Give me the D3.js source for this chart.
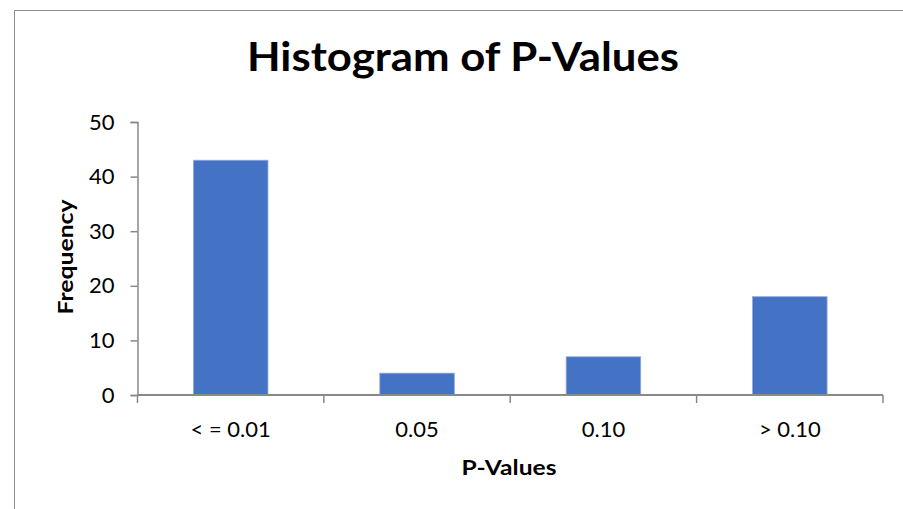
<!DOCTYPE html>
<html>
<head>
<meta charset="utf-8">
<script src="https://cdn.jsdelivr.net/npm/d3@7"></script>
<style>
  body { margin: 0; background: #fff; }
  text { font-family: Lato, "Open Sans", sans-serif; }
</style>
</head>
<body>
<div id="chart"></div>
<script>
const chartWidth = 903;
const chartHeight = 509;

const margin = { top: 122, bottom: 114, left: 137.5, right: 20 };

// chart data
const categories = ["< = 0.01", "0.05", "0.10", "> 0.10"];
const frequencies = [43, 4, 7, 18];
const yTicks = [0, 10, 20, 30, 40, 50];

const barColor = "#4472C4";
const axisColor = "#898989";

const svg = d3.select("#chart")
  .append("svg")
  .attr("width", chartWidth)
  .attr("height", chartHeight);

// outer frame (only left and top edges are visible in the picture)
svg.append("path")
  .attr("d", "M14.5," + chartHeight + "V10.5H" + chartWidth)
  .attr("fill", "none")
  .attr("stroke", "#8c8c8c")
  .attr("stroke-width", 1);

const xScale = d3.scaleBand()
  .domain(categories)
  .range([margin.left, 883])
  .paddingInner(0.6)
  .paddingOuter(0.3);

const yScale = d3.scaleLinear()
  .domain([0, 50])
  .range([395, margin.top]);

// bars
svg.selectAll("rect.bar")
  .data(frequencies)
  .enter().append("rect")
  .attr("class", "bar")
  .attr("x", (d, i) => xScale(categories[i]))
  .attr("y", d => yScale(d))
  .attr("width", xScale.bandwidth())
  .attr("height", d => yScale(0) - yScale(d))
  .attr("fill", barColor)
  .attr("stroke", "#8eaadb")
  .attr("stroke-width", 0.8);

// y axis
const yAxis = d3.axisLeft(yScale)
  .tickValues(yTicks)
  .tickSize(7)
  .tickPadding(16);

const gy = svg.append("g")
  .attr("transform", "translate(" + margin.left + ",0)")
  .call(yAxis);
gy.select(".domain").attr("stroke", axisColor).attr("stroke-width", 1.5);
gy.selectAll(".tick line").attr("stroke", axisColor).attr("stroke-width", 1.5);
gy.selectAll(".tick text")
  .attr("font-size", 22)
  .attr("fill", "#000");

// x axis: ticks sit between the categories
svg.append("line")
  .attr("x1", margin.left).attr("x2", 883)
  .attr("y1", yScale(0)).attr("y2", yScale(0))
  .attr("stroke", axisColor)
  .attr("stroke-width", 2);

const step = xScale.step();
const gap = (step - xScale.bandwidth()) / 2;
const bounds = [margin.left].concat(categories.map(c => xScale(c) + xScale.bandwidth() + gap));
svg.selectAll("line.xtick")
  .data(bounds)
  .enter().append("line")
  .attr("class", "xtick")
  .attr("x1", d => d).attr("x2", d => d)
  .attr("y1", yScale(0)).attr("y2", yScale(0) + 8)
  .attr("stroke", axisColor)
  .attr("stroke-width", 1.5);

svg.selectAll("text.xlabel")
  .data(categories)
  .enter().append("text")
  .attr("class", "xlabel")
  .attr("x", d => xScale(d) + xScale.bandwidth() / 2)
  .attr("y", 437)
  .attr("text-anchor", "middle")
  .attr("font-size", 22)
  .text(d => d);

// titles
svg.append("text")
  .attr("x", 463)
  .attr("y", 71)
  .attr("text-anchor", "middle")
  .attr("font-size", 40)
  .attr("font-weight", "bold")
  .attr("textLength", 432)
  .attr("lengthAdjust", "spacingAndGlyphs")
  .text("Histogram of P-Values");

svg.append("text")
  .attr("x", 509)
  .attr("y", 475)
  .attr("text-anchor", "middle")
  .attr("font-size", 20)
  .attr("font-weight", "bold")
  .attr("textLength", 95)
  .attr("lengthAdjust", "spacingAndGlyphs")
  .text("P-Values");

svg.append("text")
  .attr("transform", "translate(73,257) rotate(-90)")
  .attr("text-anchor", "middle")
  .attr("font-size", 20)
  .attr("font-weight", "bold")
  .attr("textLength", 115)
  .attr("lengthAdjust", "spacingAndGlyphs")
  .text("Frequency");
</script>
</body>
</html>
